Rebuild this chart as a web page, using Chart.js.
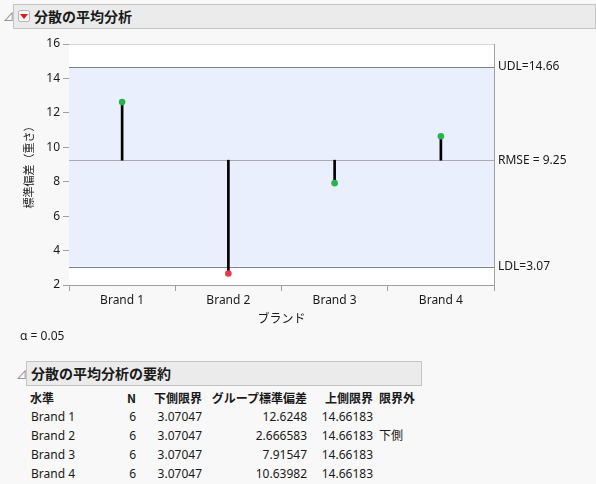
<!DOCTYPE html>
<html>
<head>
<meta charset="utf-8">
<script src="https://cdn.jsdelivr.net/npm/chart.js@4"></script>
<style>
  html, body { margin: 0; padding: 0; background: #f8f8f8; }
  body { width: 596px; height: 484px; position: relative; overflow: hidden;
         font-family: "Noto Sans", "Noto Sans CJK JP", sans-serif; color: #1a1a1a; }
  .hdr { position: absolute; background: #ebebeb; border: 1px solid #c4c4c4; box-sizing: border-box;
         font-family: "Noto Sans CJK JP", sans-serif; font-weight: bold; font-size: 14px; line-height: 22px; }
  .tri { position: absolute; color: #8a8a8a; font-size: 11px; line-height: 11px; }
  #chartBox { position: absolute; left: 0; top: 30px; width: 596px; height: 300px; }
  .cell { position: absolute; font-size: 12px; line-height: 16px; white-space: nowrap; }
  .b { font-family: "Noto Sans CJK JP", sans-serif; font-weight: bold; }
  .r { text-align: right; }
</style>
</head>
<body>

<span class="tri" style="left:3px;top:11px;">⊿</span>
<div class="hdr" style="left:13px;top:4px;width:583px;height:25px;">
  <span style="position:absolute;left:4px;top:5px;width:12px;height:12px;border:1px solid #b8b8b8;border-radius:2px;background:#f4f4f4;box-sizing:border-box;"></span>
  <span style="position:absolute;left:6px;top:9px;width:0;height:0;border-left:4px solid transparent;border-right:4px solid transparent;border-top:5px solid #d0201c;"></span>
  <span style="position:absolute;left:20px;top:0;">分散の平均分析</span>
</div>

<div id="chartBox"><canvas id="anomChart"></canvas></div>

<div class="cell" style="left:20px;top:328px;">α = 0.05</div>

<span class="tri" style="left:16px;top:369px;">⊿</span>
<div class="hdr" style="left:26px;top:361px;width:396px;height:25px;">
  <span style="position:absolute;left:4px;top:0;">分散の平均分析の要約</span>
</div>

<div id="tbl"></div>

<script>
// ── Data ─────────────────────────────────────────────
const brands = ['Brand 1', 'Brand 2', 'Brand 3', 'Brand 4'];
const groupStdDev = [12.6248, 2.666583, 7.91547, 10.63982];
const groupN = [6, 6, 6, 6];
const lowerLimit = 3.07047;
const upperLimit = 14.66183;
const rmse = 9.25;
const yTicks = [2, 4, 6, 8, 10, 12, 14, 16];

const GREEN = '#2bb34b';
const RED = '#e8384d';

// ── Limits band + labels ─────────────────────────────
const limitsPlugin = {
    id: 'limits',
    beforeDatasetsDraw(chart) {
        const { ctx, chartArea: a, scales: { y } } = chart;
        const yU = y.getPixelForValue(upperLimit);
        const yL = y.getPixelForValue(lowerLimit);
        const yC = y.getPixelForValue(rmse);
        ctx.save();
        ctx.fillStyle = '#ffffff';
        ctx.fillRect(a.left, a.top, a.width, a.height);
        ctx.fillStyle = '#e9effc';
        ctx.fillRect(a.left, yU, a.width, yL - yU);
        ctx.lineWidth = 1;
        ctx.strokeStyle = '#7e8088';
        [yU, yL].forEach(py => {
            ctx.beginPath();
            ctx.moveTo(a.left, Math.round(py) + 0.5);
            ctx.lineTo(a.right, Math.round(py) + 0.5);
            ctx.stroke();
        });
        ctx.strokeStyle = '#a9abb2';
        ctx.beginPath();
        ctx.moveTo(a.left, Math.round(yC) + 0.5);
        ctx.lineTo(a.right, Math.round(yC) + 0.5);
        ctx.stroke();
        ctx.strokeStyle = '#d8d8d8';
        ctx.beginPath();
        ctx.moveTo(a.left, Math.round(a.top) + 0.5);
        ctx.lineTo(a.right, Math.round(a.top) + 0.5);
        ctx.stroke();
        ctx.strokeStyle = '#a0a0a0';
        ctx.beginPath();
        ctx.moveTo(Math.round(a.right) + 0.5, a.top);
        ctx.lineTo(Math.round(a.right) + 0.5, a.bottom);
        ctx.stroke();

        ctx.fillStyle = '#1a1a1a';
        ctx.font = '12px "Noto Sans", "DejaVu Sans", sans-serif';
        ctx.textBaseline = 'middle';
        ctx.textAlign = 'left';
        ctx.fillText('UDL=' + upperLimit.toFixed(2), a.right + 4, yU);
        ctx.fillText('RMSE = ' + rmse.toFixed(2), a.right + 4, yC);
        ctx.fillText('LDL=' + lowerLimit.toFixed(2), a.right + 4, yL);
        ctx.restore();
    }
};

new Chart(document.getElementById('anomChart'), {
    type: 'bar',
    data: {
        labels: brands,
        datasets: [
            {
                type: 'bar',
                data: groupStdDev.map(v => [rmse, v]),
                backgroundColor: '#000000',
                barThickness: 2,
                borderSkipped: false,
                order: 2
            },
            {
                type: 'line',
                data: groupStdDev,
                showLine: false,
                pointRadius: 3.3,
                pointBorderWidth: 0,
                pointBackgroundColor: groupStdDev.map(v => (v < lowerLimit || v > upperLimit) ? RED : GREEN),
                order: 1
            }
        ]
    },
    plugins: [limitsPlugin],
    options: {
        responsive: true,
        maintainAspectRatio: false,
        animation: false,
        layout: { padding: { left: 0, right: 102, top: 14, bottom: 0 } },
        plugins: { legend: { display: false }, tooltip: { enabled: false } },
        scales: {
            x: {
                offset: true,
                grid: { offset: true, drawOnChartArea: false, tickLength: 6, color: '#a0a0a0' },
                border: { color: '#a0a0a0' },
                ticks: { color: '#1a1a1a', padding: 2, font: { size: 12, family: '"Noto Sans", sans-serif' } },
                title: { display: true, text: 'ブランド', color: '#1a1a1a', padding: { top: 1 },
                         font: { size: 12, family: '"Noto Sans CJK JP", sans-serif' } },
                afterFit(s) { s.height = 45; }
            },
            y: {
                min: 2, max: 16,
                afterBuildTicks(s) { s.ticks = yTicks.map(v => ({ value: v })); },
                grid: { drawOnChartArea: false, tickLength: 6, color: '#a0a0a0' },
                border: { color: '#a0a0a0' },
                ticks: { color: '#1a1a1a', padding: 3, font: { size: 12, family: '"Noto Sans", sans-serif' } },
                title: { display: true, text: '標準偏差（重さ）', color: '#1a1a1a', padding: { top: 22, bottom: 0 },
                         font: { size: 11, family: '"Noto Sans CJK JP", sans-serif' } },
                afterFit(s) { s.width = 69; }
            }
        }
    }
});

// ── Summary table ────────────────────────────────────
const tbl = document.getElementById('tbl');
const rowTop = [390, 409, 428, 447, 466];
function cell(txt, x, top, align, cls) {
    const d = document.createElement('div');
    d.className = 'cell ' + (cls || '');
    if (align === 'r') { d.style.right = (596 - x) + 'px'; d.classList.add('r'); }
    else d.style.left = x + 'px';
    d.style.top = top + 'px';
    d.textContent = txt;
    tbl.appendChild(d);
}
cell('水準', 30, rowTop[0], 'l', 'b');
cell('N', 136, rowTop[0], 'r', 'b');
cell('下側限界', 202, rowTop[0], 'r', 'b');
cell('グループ標準偏差', 307, rowTop[0], 'r', 'b');
cell('上側限界', 373, rowTop[0], 'r', 'b');
cell('限界外', 379, rowTop[0], 'l', 'b');
brands.forEach((b, i) => {
    const t = rowTop[i + 1];
    const v = groupStdDev[i];
    cell(b, 31, t, 'l');
    cell(String(groupN[i]), 136, t, 'r');
    cell(lowerLimit.toFixed(5), 202, t, 'r');
    cell(String(v), 307, t, 'r');
    cell(upperLimit.toFixed(5), 373, t, 'r');
    if (v < lowerLimit) cell('下側', 379, t, 'l', '');
    else if (v > upperLimit) cell('上側', 379, t, 'l', '');
});
</script>
</body>
</html>
